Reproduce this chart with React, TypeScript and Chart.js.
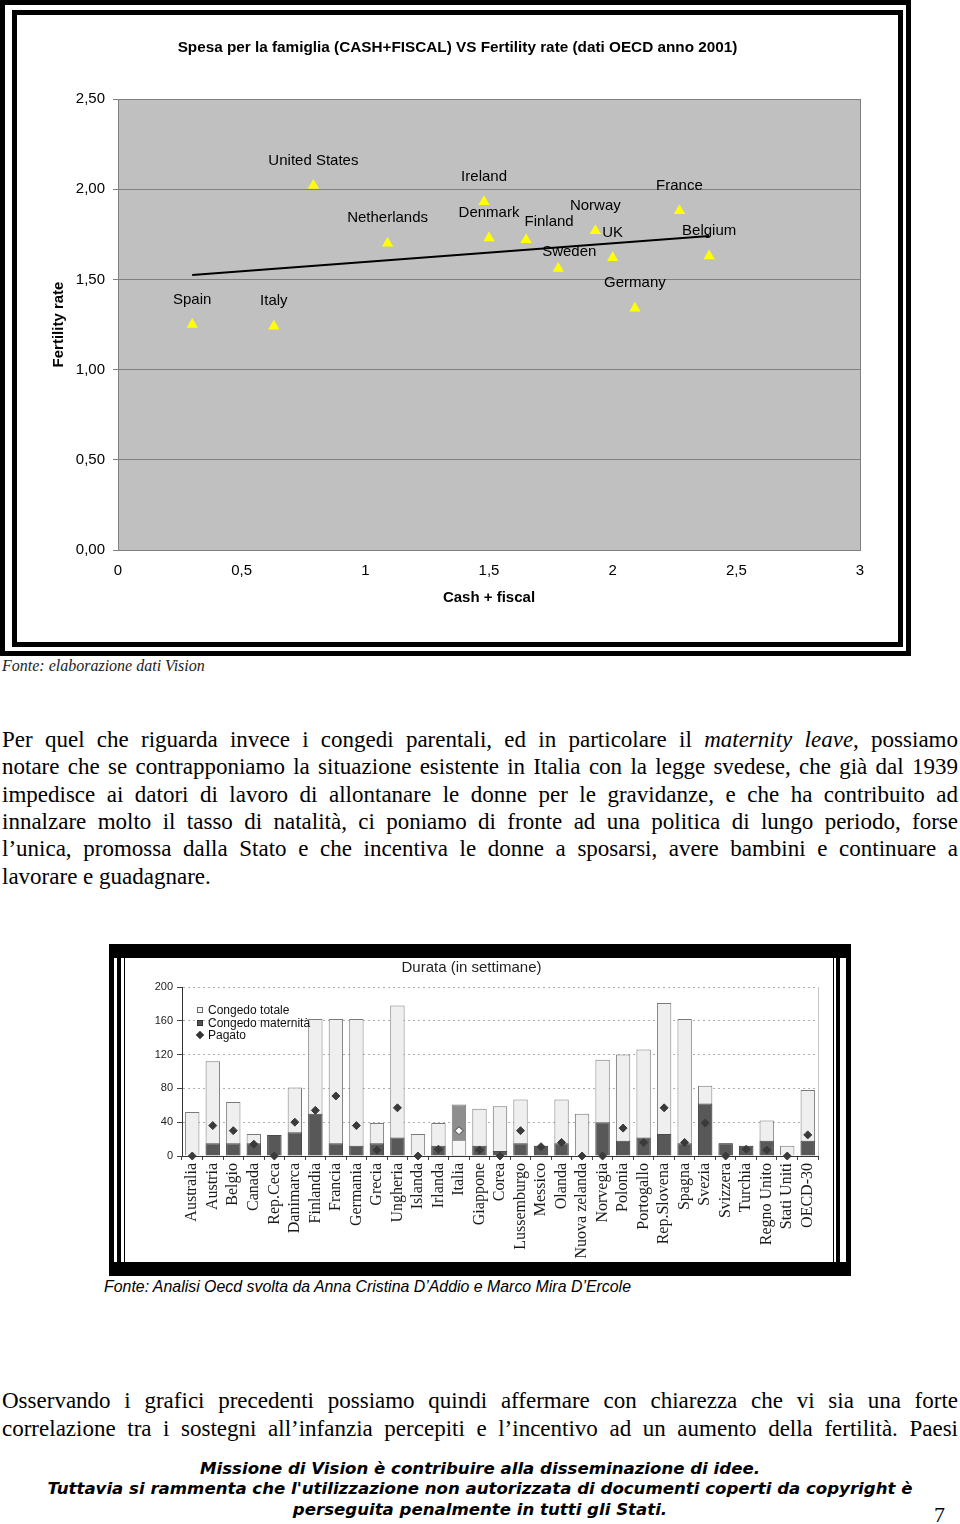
import React, { useEffect, useRef } from 'react';
import { Chart, registerables } from 'chart.js';
Chart.register(...registerables);

// ---------- Data: scatter (Spesa per la famiglia vs Fertility rate) ----------
const countries = ['Spain', 'Italy', 'United States', 'Netherlands', 'Ireland', 'Denmark', 'Finland', 'Sweden', 'Norway', 'UK', 'Germany', 'France', 'Belgium'];
const cashFiscal = [0.30, 0.63, 0.79, 1.09, 1.48, 1.50, 1.65, 1.78, 1.93, 2.00, 2.09, 2.27, 2.39];
const fertility = [1.25, 1.24, 2.02, 1.70, 1.93, 1.73, 1.72, 1.56, 1.77, 1.62, 1.34, 1.88, 1.63];
const trendX = [0.30, 2.39];
const trendY = [1.525, 1.74];
const xTickValues = [0, 0.5, 1, 1.5, 2, 2.5, 3];
const yTickValues = [0, 0.5, 1, 1.5, 2, 2.5];
const scatterTitle = 'Spesa per la famiglia (CASH+FISCAL) VS Fertility rate (dati OECD anno 2001)';

// ---------- Data: bar chart (Durata in settimane) ----------
const leaveCountries = ['Australia', 'Austria', 'Belgio', 'Canada', 'Rep.Ceca', 'Danimarca', 'Finlandia', 'Francia', 'Germania', 'Grecia', 'Ungheria', 'Islanda', 'Irlanda', 'Italia', 'Giappone', 'Corea', 'Lussemburgo', 'Messico', 'Olanda', 'Nuova zelanda', 'Norvegia', 'Polonia', 'Portogallo', 'Rep.Slovena', 'Spagna', 'Svezia', 'Svizzera', 'Turchia', 'Regno Unito', 'Stati Uniti', 'OECD-30'];
const congedoTotale = [52, 112, 64, 26, 25, 81, 162, 162, 162, 39, 178, 26, 39, 61, 56, 59, 67, 12, 67, 50, 114, 120, 126, 181, 162, 83, 15, 12, 42, 12, 78];
const congedoMaternita = [0, 15, 15, 15, 25, 28, 50, 15, 12, 15, 22, 0, 12, 19, 12, 6, 15, 12, 15, 0, 40, 18, 22, 26, 15, 62, 15, 12, 18, 0, 18];
const pagato = [0, 36, 30, 14, 0, 40, 54, 71, 36, 7, 57, 0, 8, 30, 7, 0, 30, 11, 16, 0, 0, 33, 16, 57, 16, 39, 0, 8, 7, 0, 25];
const leaveTicks = [0, 40, 80, 120, 160, 200];

const SANS = '"Liberation Sans", Arial, sans-serif';
const SERIF = '"Liberation Serif", "Times New Roman", serif';

// label placement (layout only)
const LABEL_DEFAULT: [number, number] = [0, -25];
const LABEL_SPECIAL: Record<string, [number, number]> = { Finland: [23, -18], Sweden: [11, -17] };

const fmtX = (v: number) => String(v).replace('.', ',');
const fmtY = (v: number) => v.toFixed(2).replace('.', ',');

const scatterPlot = {
  id: 'scatterPlot',
  beforeDraw(chart: any) {
    const { ctx, chartArea: a } = chart;
    ctx.save();
    ctx.fillStyle = '#c0c0c0';
    ctx.fillRect(a.left, a.top, a.right - a.left, a.bottom - a.top);
    ctx.font = 'bold 15.3px ' + SANS;
    ctx.fillStyle = '#000';
    ctx.textAlign = 'center';
    ctx.textBaseline = 'middle';
    ctx.fillText(scatterTitle, chart.width / 2, 33);
    ctx.restore();
  },
  beforeDatasetsDraw(chart: any) {
    const { ctx, chartArea: a } = chart;
    ctx.save();
    ctx.strokeStyle = '#808080';
    ctx.lineWidth = 1;
    ctx.strokeRect(Math.round(a.left) + 0.5, Math.round(a.top) + 0.5, Math.round(a.right - a.left), Math.round(a.bottom - a.top));
    const meta = chart.getDatasetMeta(0);
    ctx.font = '15px ' + SANS;
    ctx.fillStyle = '#000';
    ctx.textAlign = 'center';
    ctx.textBaseline = 'middle';
    meta.data.forEach((pt: any, i: number) => {
      const off = LABEL_SPECIAL[countries[i]] || LABEL_DEFAULT;
      ctx.fillText(countries[i], pt.x + off[0], pt.y + off[1]);
    });
    ctx.restore();
  },
};

const barFrame = {
  id: 'barFrame',
  afterDraw(chart: any) {
    const { ctx, chartArea: a } = chart;
    ctx.save();
    ctx.strokeStyle = '#c4c4c4';
    ctx.lineWidth = 1;
    ctx.beginPath();
    ctx.moveTo(Math.round(a.right) + 0.5, a.top);
    ctx.lineTo(Math.round(a.right) + 0.5, a.bottom);
    ctx.stroke();
    ctx.restore();
  },
};

function ScatterChart() {
  const ref = useRef<HTMLCanvasElement | null>(null);
  useEffect(() => {
    const chart = new Chart(ref.current as HTMLCanvasElement, {
      type: 'scatter',
      data: {
        datasets: [
          {
            label: 'Paesi',
            data: countries.map((c, i) => ({ x: cashFiscal[i], y: fertility[i] })),
            pointStyle: 'triangle',
            pointRadius: 6.5,
            backgroundColor: '#ffff00',
            borderColor: '#ffff00',
            borderWidth: 0,
            order: 2,
          },
          {
            type: 'line',
            label: 'Trend',
            data: trendX.map((x, i) => ({ x, y: trendY[i] })),
            borderColor: '#000',
            borderWidth: 2,
            pointRadius: 0,
            showLine: true,
            fill: false,
            order: 1,
          },
        ],
      } as any,
      options: {
        animation: false,
        responsive: false,
        maintainAspectRatio: false,
        layout: { padding: { left: 0, right: 38, top: 84, bottom: 0 } },
        plugins: {
          legend: { display: false },
          tooltip: { enabled: false },
          title: { display: false },
        },
        scales: {
          x: {
            type: 'linear',
            min: 0,
            max: 3,
            afterBuildTicks: (s: any) => { s.ticks = xTickValues.map((v) => ({ value: v })); },
            ticks: { callback: (v: any) => fmtX(Number(v)), font: { family: SANS, size: 15 }, color: '#000', padding: 12 },
            grid: { display: false, drawTicks: false },
            border: { display: false },
            title: { display: true, text: 'Cash + fiscal', font: { family: SANS, size: 15, weight: 'bold' }, color: '#000', padding: { top: 0, bottom: 35 } },
            afterFit: (s: any) => { s.height = 92; },
          },
          y: {
            min: 0,
            max: 2.5,
            afterBuildTicks: (s: any) => { s.ticks = yTickValues.map((v) => ({ value: v })); },
            ticks: { callback: (v: any) => fmtY(Number(v)), font: { family: SANS, size: 15 }, color: '#000', padding: 8 },
            grid: { color: '#808080', tickColor: '#808080', tickLength: 5, lineWidth: 1 },
            border: { display: false },
            title: { display: true, text: 'Fertility rate', font: { family: SANS, size: 15, weight: 'bold' }, color: '#000', padding: { top: 33, bottom: 0 } },
            afterFit: (s: any) => { s.width = 101; },
          },
        },
      } as any,
      plugins: [scatterPlot],
    });
    return () => chart.destroy();
  }, []);
  return <canvas ref={ref} width={881} height={627} style={{ width: 881, height: 627, display: 'block' }} />;
}

function LeaveChart() {
  const ref = useRef<HTMLCanvasElement | null>(null);
  useEffect(() => {
    const isItaly = (i: number) => leaveCountries[i] === 'Italia';
    const chart = new Chart(ref.current as HTMLCanvasElement, {
      type: 'bar',
      data: {
        labels: leaveCountries,
        datasets: [
          {
            type: 'bar',
            label: 'Congedo totale',
            data: congedoTotale,
            backgroundColor: (c: any) => (isItaly(c.dataIndex) ? '#8e8e8e' : '#efefef'),
            borderColor: '#7a7a7a',
            borderWidth: 1,
            grouped: false,
            categoryPercentage: 0.7,
            barPercentage: 1,
            order: 3,
          },
          {
            type: 'bar',
            label: 'Congedo maternità',
            data: congedoMaternita,
            backgroundColor: (c: any) => (isItaly(c.dataIndex) ? '#f6f6f6' : '#585858'),
            borderColor: (c: any) => (isItaly(c.dataIndex) ? '#9a9a9a' : '#4a4a4a'),
            borderWidth: 1,
            grouped: false,
            categoryPercentage: 0.7,
            barPercentage: 1,
            order: 2,
          },
          {
            type: 'line',
            label: 'Pagato',
            data: pagato,
            showLine: false,
            pointStyle: 'rectRot',
            pointRadius: 4,
            pointBackgroundColor: (c: any) => (isItaly(c.dataIndex) ? '#ffffff' : '#3a3a3a'),
            pointBorderColor: '#3a3a3a',
            pointBorderWidth: 1,
            clip: false,
            order: 1,
          },
        ],
      } as any,
      options: {
        animation: false,
        responsive: false,
        maintainAspectRatio: false,
        layout: { padding: { left: 0, right: 15, top: 0, bottom: 0 } },
        plugins: {
          legend: { display: false },
          tooltip: { enabled: false },
          title: {
            display: true,
            text: 'Durata (in settimane)',
            font: { family: SANS, size: 15, weight: 'normal' },
            color: '#222',
            padding: { top: 1, bottom: 10 },
          },
        },
        scales: {
          x: {
            offset: true,
            grid: { display: true, drawOnChartArea: false, drawTicks: true, tickLength: 4, tickColor: '#444', offset: true },
            border: { display: true, color: '#333', width: 1 },
            ticks: { font: { family: SERIF, size: 16 }, color: '#1a1a1a', minRotation: 90, maxRotation: 90, autoSkip: false, padding: 3 },
            afterFit: (s: any) => { s.height = 106; },
          },
          y: {
            min: 0,
            max: 200,
            afterBuildTicks: (s: any) => { s.ticks = leaveTicks.map((v) => ({ value: v })); },
            ticks: { font: { family: SANS, size: 11 }, color: '#222', padding: 4 },
            grid: {
              color: (c: any) => (c.tick && c.tick.value === 0 ? 'rgba(0,0,0,0)' : '#b0b0b0'),
              tickColor: '#444',
              tickLength: 5,
              tickBorderDash: [],
            },
            border: { display: true, color: '#333', width: 1, dash: [2, 3] },
            afterFit: (s: any) => { s.width = 57; },
          },
        },
      } as any,
      plugins: [barFrame],
    });
    return () => chart.destroy();
  }, []);
  return <canvas ref={ref} width={708} height={304} style={{ width: 708, height: 304, display: 'block' }} />;
}

const abs = (left: number, top: number, width: number, height: number, extra: any = {}) => ({
  position: 'absolute' as const, left, top, width, height, boxSizing: 'border-box' as const, ...extra,
});

function TextLine({ cy, children, last = false, left = 2, width = 956 }: any) {
  return (
    <div
      style={{
        position: 'absolute', left, width, top: cy - 14, height: 28, lineHeight: '28px',
        fontFamily: SERIF, fontSize: 23, color: '#000',
        textAlign: last ? 'left' : 'justify', textAlignLast: last ? 'left' : 'justify',
      } as any}
    >
      {children}
    </div>
  );
}

export default function App() {
  const footer = { fontFamily: '"DejaVu Sans", Verdana, sans-serif', fontWeight: 'bold', fontStyle: 'italic', fontSize: 16.6, color: '#000', textAlign: 'center' as const, lineHeight: '20px', position: 'absolute' as const, left: 0, width: 960, height: 20 };
  return (
    <div style={{ position: 'absolute', left: 0, top: 0, width: 960, height: 1524, background: '#fff', overflow: 'hidden' }}>
      {/* frame 1 */}
      <div style={abs(0, 0, 911, 656, { border: '5px solid #000' })} />
      <div style={abs(12, 10, 891, 637, { border: '5px solid #000' })} />
      <div style={{ position: 'absolute', left: 17, top: 15, background: '#fff' }}>
        <ScatterChart />
      </div>
      <div style={{ position: 'absolute', left: 2, top: 656, height: 20, lineHeight: '20px', fontFamily: SERIF, fontStyle: 'italic', fontSize: 16, color: '#222' }}>
        Fonte: elaborazione dati Vision
      </div>

      <TextLine cy={740}>Per quel che riguarda invece i congedi parentali, ed in particolare il <i>maternity leave</i>, possiamo</TextLine>
      <TextLine cy={767}>notare che se contrapponiamo la situazione esistente in Italia con la legge svedese, che già dal 1939</TextLine>
      <TextLine cy={795}>impedisce ai datori di lavoro di allontanare le donne per le gravidanze, e che ha contribuito ad</TextLine>
      <TextLine cy={822}>innalzare molto il tasso di natalità, ci poniamo di fronte ad una politica di lungo periodo, forse</TextLine>
      <TextLine cy={849}>l’unica, promossa dalla Stato e che incentiva le donne a sposarsi, avere bambini e continuare a</TextLine>
      <TextLine cy={877} last>lavorare e guadagnare.</TextLine>

      {/* frame 2 */}
      <div style={abs(109, 944, 742, 332, { background: '#000' })} />
      <div style={abs(114, 958, 732, 304, { background: '#fff' })} />
      <div style={abs(117, 958, 723, 304, { background: '#000' })} />
      <div style={abs(121, 958, 715, 304, { background: '#fff' })} />
      <div style={abs(124, 958, 710, 304, { background: '#000' })} />
      <div style={{ position: 'absolute', left: 125, top: 958, width: 708, height: 304, background: '#fff' }}>
        <LeaveChart />
      </div>
      {/* legend */}
      <div style={{ position: 'absolute', left: 196, top: 1004, fontFamily: SANS, fontSize: 12, color: '#111', lineHeight: '12.5px' }}>
        <div style={{ position: 'relative', height: 12.5, paddingLeft: 12 }}>
          <span style={{ position: 'absolute', left: 1, top: 3, width: 6, height: 6, boxSizing: 'border-box', border: '1px solid #666', background: '#f4f4f4' }} />
          Congedo totale
        </div>
        <div style={{ position: 'relative', height: 12.5, paddingLeft: 12 }}>
          <span style={{ position: 'absolute', left: 1, top: 3, width: 6, height: 6, boxSizing: 'border-box', border: '1px solid #333', background: '#555' }} />
          Congedo maternità
        </div>
        <div style={{ position: 'relative', height: 12.5, paddingLeft: 12 }}>
          <span style={{ position: 'absolute', left: 1, top: 3, width: 6, height: 6, background: '#333', transform: 'rotate(45deg)' }} />
          Pagato
        </div>
      </div>
      <div style={{ position: 'absolute', left: 104, top: 1277, height: 20, lineHeight: '20px', fontFamily: SANS, fontStyle: 'italic', fontSize: 15.9, color: '#000', whiteSpace: 'nowrap' }}>
        Fonte: Analisi Oecd svolta da Anna Cristina D’Addio e Marco Mira D’Ercole
      </div>

      <TextLine cy={1401}>Osservando i grafici precedenti possiamo quindi affermare con chiarezza che vi sia una forte</TextLine>
      <TextLine cy={1429}>correlazione tra i sostegni all’infanzia percepiti e l’incentivo ad un aumento della fertilità. Paesi</TextLine>

      <div style={{ ...footer, top: 1459 }}>Missione di Vision è contribuire alla disseminazione di idee.</div>
      <div style={{ ...footer, top: 1479 }}>Tuttavia si rammenta che l'utilizzazione non autorizzata di documenti coperti da copyright è</div>
      <div style={{ ...footer, top: 1500 }}>perseguita penalmente in tutti gli Stati.</div>
      <div style={{ position: 'absolute', left: 934, top: 1501, height: 28, lineHeight: '28px', fontFamily: SERIF, fontSize: 22, color: '#000' }}>7</div>
    </div>
  );
}
